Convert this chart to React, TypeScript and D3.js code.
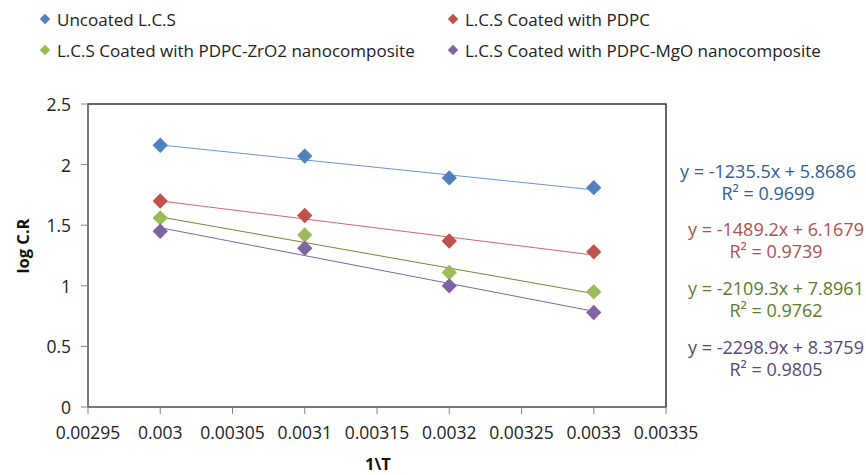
import * as d3 from 'd3';

const xValues = [0.003, 0.0031, 0.0032, 0.0033];
const seriesNames = [
  'Uncoated L.C.S',
  'L.C.S Coated with PDPC',
  'L.C.S Coated with PDPC-ZrO2 nanocomposite',
  'L.C.S Coated with PDPC-MgO nanocomposite',
];
const uncoated = [2.16, 2.07, 1.89, 1.81];
const coatedPdpc = [1.70, 1.58, 1.37, 1.28];
const coatedZrO2 = [1.56, 1.42, 1.11, 0.95];
const coatedMgO = [1.45, 1.31, 1.0, 0.78];
const slopes = [-1235.5, -1489.2, -2109.3, -2298.9];
const intercepts = [5.8686, 6.1679, 7.8961, 8.3759];
const rSquared = ['0.9699', '0.9739', '0.9762', '0.9805'];
const xTicks = [0.00295, 0.003, 0.00305, 0.0031, 0.00315, 0.0032, 0.00325, 0.0033, 0.00335];
const yTicks = [0, 0.5, 1, 1.5, 2, 2.5];

const MARKER = ['#4F81BD', '#C0504D', '#9BBB59', '#8064A2'];
const TREND = ['#6A95CC', '#C96A67', '#6E8A3A', '#7A68A0'];
const EQ_TEXT = ['#2F5D95', '#B0504D', '#5E7A2E', '#564678'];

const FONT = 'Open Sans, sans-serif';

export default function App() {
  const width = 866;
  const height = 475;
  const plot = { left: 88, right: 666, top: 104, bottom: 407 };

  const x = d3.scaleLinear().domain([0.00295, 0.00335]).range([plot.left, plot.right]);
  const y = d3.scaleLinear().domain([0, 2.5]).range([plot.bottom, plot.top]);

  const series = [uncoated, coatedPdpc, coatedZrO2, coatedMgO];
  const diamond = d3.symbol().type(d3.symbolDiamond2).size(150)();
  const legendDiamond = d3.symbol().type(d3.symbolDiamond2).size(70)();

  const legend = [
    { x: 45, y: 19 },
    { x: 453, y: 19 },
    { x: 45, y: 50 },
    { x: 453, y: 50 },
  ];
  const eqPos = [
    { x: 768, y: 171 },
    { x: 776, y: 229 },
    { x: 776, y: 288 },
    { x: 776, y: 347 },
  ];

  return (
    <svg width={width} height={height} style={{ position: 'absolute', left: 0, top: 0, background: '#fff' }}>
      {/* legend */}
      {seriesNames.map((name, i) => (
        <g key={name} transform={`translate(${legend[i].x},${legend[i].y})`}>
          <path d={legendDiamond} fill={MARKER[i]} />
          <text x={12} y={0} dominantBaseline='central' fontSize={17} fontFamily={FONT} fill='#222'>
            {name}
          </text>
        </g>
      ))}

      {/* plot border */}
      <rect
        x={plot.left}
        y={plot.top}
        width={plot.right - plot.left}
        height={plot.bottom - plot.top}
        fill='none'
        stroke='#000'
        strokeWidth={1.2}
      />
      <line x1={plot.left} x2={plot.left} y1={plot.top} y2={plot.bottom} stroke='#868686' strokeWidth={1.2} />
      <line x1={plot.left} x2={plot.right} y1={plot.bottom} y2={plot.bottom} stroke='#868686' strokeWidth={1.2} />

      {/* y axis */}
      {yTicks.map((t) => (
        <g key={t}>
          <line x1={plot.left - 7} x2={plot.left} y1={y(t)} y2={y(t)} stroke='#868686' />
          <text x={plot.left - 17} y={y(t)} textAnchor='end' dominantBaseline='central' fontSize={17.5} fontFamily={FONT} fill='#222'>
            {t}
          </text>
        </g>
      ))}
      {/* x axis */}
      {xTicks.map((t) => (
        <g key={t}>
          <line x1={x(t)} x2={x(t)} y1={plot.bottom} y2={plot.bottom + 7} stroke='#868686' />
          <text x={x(t)} y={432} textAnchor='middle' dominantBaseline='central' fontSize={17.5} fontFamily={FONT} fill='#222'>
            {t}
          </text>
        </g>
      ))}

      <text
        transform={`translate(22,246) rotate(-90)`}
        textAnchor='middle'
        dominantBaseline='central'
        fontSize={16.5}
        fontWeight='bold'
        fontFamily={FONT}
        fill='#111'
      >
        log C.R
      </text>
      <text x={378} y={463} textAnchor='middle' dominantBaseline='central' fontSize={16.5} fontWeight='bold' fontFamily={FONT} fill='#111'>
        1\T
      </text>

      {/* trendlines */}
      {slopes.map((m, i) => {
        const ends = [xValues[0], xValues[xValues.length - 1]];
        const pts = ends.map((xv) => ({ xv, yv: m * xv + intercepts[i] }));
        return (
          <line
            key={`t${i}`}
            x1={x(pts[0].xv)}
            y1={y(pts[0].yv)}
            x2={x(pts[1].xv)}
            y2={y(pts[1].yv)}
            stroke={TREND[i]}
            strokeWidth={1}
          />
        );
      })}

      {/* markers */}
      {series.map((vals, i) =>
        vals.map((v, j) => (
          <path key={`m${i}-${j}`} d={diamond} transform={`translate(${x(xValues[j])},${y(v)})`} fill={MARKER[i]} />
        ))
      )}

      {/* equations */}
      {slopes.map((m, i) => (
        <g key={`e${i}`} fontFamily={FONT} fontSize={18} fill={EQ_TEXT[i]} textAnchor='middle'>
          <text x={eqPos[i].x} y={eqPos[i].y} dominantBaseline='central'>
            {`y = ${m}x + ${intercepts[i]}`}
          </text>
          <text x={eqPos[i].x} y={eqPos[i].y + 22} dominantBaseline='central'>
            {`R² = ${rSquared[i]}`}
          </text>
        </g>
      ))}
    </svg>
  );
}
